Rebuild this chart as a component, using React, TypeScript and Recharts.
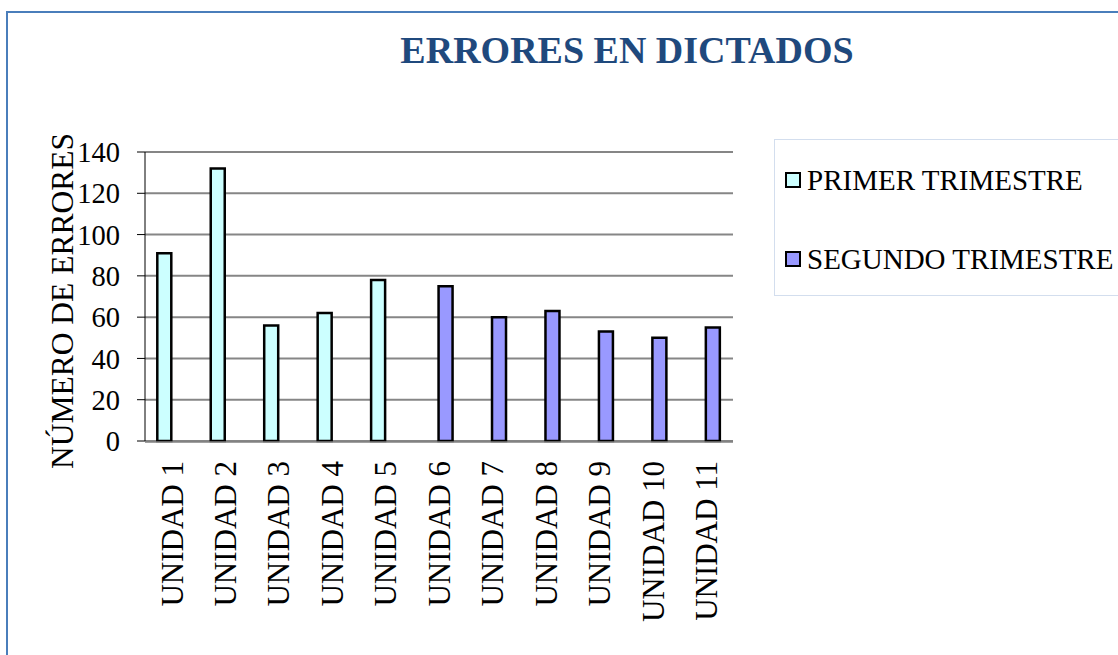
import React from "react";
import {
  BarChart,
  Bar,
  XAxis,
  YAxis,
  CartesianGrid,
  Legend,
} from "recharts";

const units = [
  "UNIDAD 1",
  "UNIDAD 2",
  "UNIDAD 3",
  "UNIDAD 4",
  "UNIDAD 5",
  "UNIDAD 6",
  "UNIDAD 7",
  "UNIDAD 8",
  "UNIDAD 9",
  "UNIDAD 10",
  "UNIDAD 11",
];
const primerTrimestre = [91, 132, 56, 62, 78, null, null, null, null, null, null];
const segundoTrimestre = [null, null, null, null, null, 75, 60, 63, 53, 50, 55];
const yTicks = [0, 20, 40, 60, 80, 100, 120, 140];
const edgeTicks = [0, 1, 2, 3, 4, 5, 6, 7, 8, 9, 10, 11];

const data = units.map((unit, i) => ({
  unit,
  primer: primerTrimestre[i],
  segundo: segundoTrimestre[i],
}));

const serif = "'Liberation Serif', 'Times New Roman', serif";

const UnitTick = (props: any) => {
  const { x, y, payload } = props;
  const ty = y + 20;
  return (
    <text
      x={x}
      y={ty}
      transform={`rotate(-90 ${x} ${ty})`}
      textAnchor="end"
      dy="0.35em"
      fontSize={31}
      fontFamily={serif}
      fill="#000"
    >
      {payload.value}
    </text>
  );
};

const AxisTitle = () => (
  <text
    x={73}
    y={301}
    transform="rotate(-90 73 301)"
    textAnchor="middle"
    fontSize={31.5}
    fontFamily={serif}
    fill="#000"
  >
    NÚMERO DE ERRORES
  </text>
);

const LegendBox = (props: any) => {
  const items = props.payload || [];
  return (
    <div
      style={{
        boxSizing: "border-box",
        width: 360,
        height: 157,
        border: "1px solid #D3DEEE",
        paddingTop: 20,
        paddingLeft: 10,
        fontFamily: serif,
        fontSize: 29,
        color: "#000",
      }}
    >
      {items.map((item: any, i: number) => (
        <div
          key={item.value}
          style={{
            display: "flex",
            alignItems: "center",
            height: 40,
            lineHeight: "40px",
            marginTop: i === 0 ? 0 : 39,
            whiteSpace: "nowrap",
          }}
        >
          <span
            style={{
              boxSizing: "border-box",
              width: 16,
              height: 16,
              border: "2.5px solid #000",
              background: item.color,
              marginRight: 6,
              flexShrink: 0,
            }}
          />
          {item.value}
        </div>
      ))}
    </div>
  );
};

export default function App() {
  return (
    <div
      style={{
        position: "absolute",
        left: 0,
        top: 0,
        width: 1118,
        height: 655,
        overflow: "hidden",
        background: "#fff",
      }}
    >
      <div
        style={{
          position: "absolute",
          left: 6,
          top: 11,
          width: 1200,
          height: 700,
          border: "2px solid #4A7EBB",
        }}
      />
      <div
        style={{
          position: "absolute",
          left: 327,
          top: 31,
          width: 600,
          textAlign: "center",
          fontFamily: serif,
          fontWeight: "bold",
          fontSize: 38,
          lineHeight: "38px",
          color: "#1F497D",
        }}
      >
        ERRORES EN DICTADOS
      </div>
      <div style={{ position: "absolute", left: 0, top: 0 }}>
        <BarChart
          width={1118}
          height={655}
          data={data}
          margin={{ top: 152, right: 385, left: 60, bottom: 212 }}
          barGap={0}
          barCategoryGap="23%"
        >
          <CartesianGrid vertical={false} stroke="#868686" strokeWidth={2} />
          <XAxis
            xAxisId="edge"
            type="number"
            domain={[0, 11]}
            ticks={edgeTicks}
            height={1}
            tick={false}
            tickSize={9}
            axisLine={{ stroke: "#808080", strokeWidth: 1.5 }}
            tickLine={{ stroke: "#808080" }}
          />
          <XAxis
            dataKey="unit"
            interval={0}
            height={1}
            axisLine={false}
            tickLine={false}
            tickSize={0}
            tickMargin={0}
            tick={<UnitTick />}
          />
          <YAxis
            width={85}
            domain={[0, 140]}
            ticks={yTicks}
            interval={0}
            tickSize={8}
            tickMargin={17}
            axisLine={{ stroke: "#000" }}
            tickLine={{ stroke: "#000" }}
            tick={{ fontSize: 28.5, fontFamily: serif, fill: "#000" }}
            label={<AxisTitle />}
          />
          <Legend
            layout="horizontal"
            align="center"
            verticalAlign="middle"
            content={<LegendBox />}
            wrapperStyle={{ left: 774, top: 139, width: 360, height: 157 }}
          />
          <Bar
            dataKey="primer"
            name="PRIMER TRIMESTRE"
            fill="#CCFFFF"
            stroke="#000"
            strokeWidth={2.5}
            isAnimationActive={false}
          />
          <Bar
            dataKey="segundo"
            name="SEGUNDO TRIMESTRE"
            fill="#9999FF"
            stroke="#000"
            strokeWidth={2.5}
            isAnimationActive={false}
          />
        </BarChart>
      </div>
    </div>
  );
}
